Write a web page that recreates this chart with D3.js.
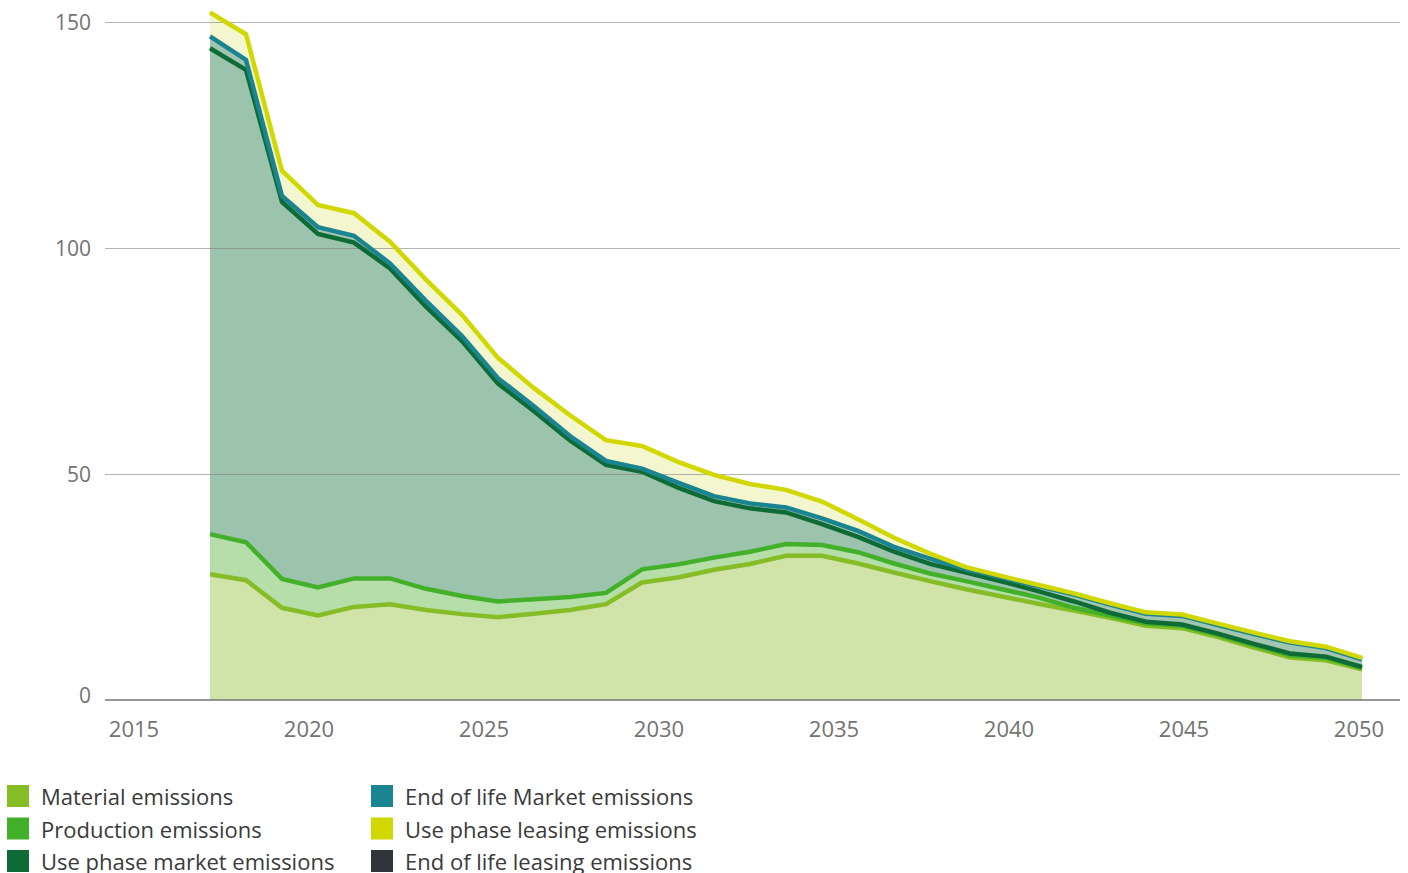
<!DOCTYPE html>
<html lang="en">
<head>
<meta charset="UTF-8">
<title>Emissions</title>
<style>
  body { margin: 0; background: #fff; }
  svg text { font-family: "Open Sans", sans-serif; }
</style>
</head>
<body>
<svg id="chart" width="1408" height="873"></svg>
<script src="https://d3js.org/d3.v7.min.js"></script>
<script>

// data (one value per point)
let years = [2018, 2019, 2020, 2021, 2022, 2023, 2024, 2025, 2026, 2027, 2028,
             2029, 2030, 2031, 2032, 2033, 2034, 2035, 2036, 2037, 2038, 2039,
             2040, 2041, 2042, 2043, 2044, 2045, 2046, 2047, 2048, 2049, 2050];

let material   = [27.8, 26.5, 20.4, 18.7, 20.6, 21.2, 19.9, 19.0, 18.3, 19.1, 19.9,
                  21.2, 26.0, 27.1, 28.8, 30.1, 31.9, 31.9, 30.2, 28.2, 26.3, 24.5,
                  22.9, 21.3, 19.8, 18.2, 16.4, 15.9, 13.9, 11.6, 9.4, 8.8, 6.8];
let production = [8.9, 8.4, 6.4, 6.2, 6.3, 5.7, 4.7, 4.0, 3.5, 3.2, 2.9,
                  2.5, 2.9, 2.9, 2.7, 2.7, 2.6, 2.4, 2.5, 2.0, 1.7, 1.8,
                  1.6, 1.4, 0.6, 0.5, 0.5, 0.5, 0.5, 0.5, 0.5, 0.5, 0.3];
let useMarket  = [107.5, 104.5, 83.4, 78.2, 74.3, 68.6, 62.4, 56.4, 48.2, 41.6, 34.6,
                  28.3, 21.6, 17.0, 12.5, 9.6, 7.0, 4.6, 3.4, 2.6, 2.1, 1.9,
                  1.7, 1.4, 1.4, 0.6, 0.4, 0.3, 0.3, 0.3, 0.4, 0.3, 0.2];
let eolMarket  = [2.6, 2.2, 1.3, 1.5, 1.5, 1.1, 1.3, 1.1, 1.2, 1.1, 1.0,
                  0.9, 0.7, 1.1, 1.1, 1.1, 1.1, 1.3, 1.3, 1.1, 1.2, 0.7,
                  0.9, 1.1, 1.5, 1.8, 1.8, 1.9, 1.9, 2.2, 2.4, 1.9, 1.7];
let useLeasing = [5.3, 5.7, 5.6, 4.9, 5.0, 4.8, 4.7, 4.7, 4.5, 4.0, 4.6,
                  4.6, 5.0, 4.6, 4.7, 4.3, 3.9, 3.7, 2.6, 2.0, 1.1, 0.5,
                  0.3, 0.3, 0.3, 0.3, 0.3, 0.3, 0.3, 0.3, 0.3, 0.3, 0.3];
let eolLeasing = [0, 0, 0, 0, 0, 0, 0, 0, 0, 0, 0,
                  0, 0, 0, 0, 0, 0, 0, 0, 0, 0, 0,
                  0, 0, 0, 0, 0, 0, 0, 0, 0, 0, 0];

let xTicks = [2015, 2020, 2025, 2030, 2035, 2040, 2045, 2050];
let yTicks = [0, 50, 100, 150];

let series = [
    {key: "material",   name: "Material emissions",          values: material,   line: "#86bc25", fill: "#d0e4aa"},
    {key: "production", name: "Production emissions",        values: production, line: "#43b02a", fill: "#b5dea9"},
    {key: "useMarket",  name: "Use phase market emissions",  values: useMarket,  line: "#0e6b35", fill: "#9cc3ab"},
    {key: "eolMarket",  name: "End of life Market emissions",values: eolMarket,  line: "#1a8490", fill: "#a0c5b0"},
    {key: "useLeasing", name: "Use phase leasing emissions", values: useLeasing, line: "#d0d800", fill: "#f4f6d0"},
    {key: "eolLeasing", name: "End of life leasing emissions",values: eolLeasing, line: "#30353c", fill: "#30353c"}
];

let rows = years.map((yr, i) => {
    let r = {year: yr};
    series.forEach(s => r[s.key] = s.values[i]);
    return r;
});

let stacked = d3.stack().keys(series.map(s => s.key))(rows);

let svg = d3.select("#chart");

// points sit 36px apart, the year labels 35px apart
let x = d3.scaleLinear().domain([2018, 2050]).range([210, 1362]);
let xLab = d3.scaleLinear().domain([2015, 2050]).range([134, 1359]);
let y = d3.scaleLinear().domain([0, 150]).range([700, 22]);

let area = d3.area()
    .x(d => x(d.data.year))
    .y0(d => y(d[0]))
    .y1(d => y(d[1]));

let line = d3.line()
    .x(d => x(d.data.year))
    .y(d => y(d[1]));

// fills
svg.append("g")
    .selectAll("path")
    .data(stacked)
    .enter()
    .append("path")
    .attr("d", area)
    .attr("fill", (d, i) => series[i].fill);

// gridlines over the fills
svg.append("g")
    .selectAll("line")
    .data(yTicks.filter(t => t > 0))
    .enter()
    .append("line")
    .attr("x1", 105)
    .attr("x2", 1400)
    .attr("y1", d => y(d) + 0.5)
    .attr("y2", d => y(d) + 0.5)
    .attr("stroke", "#808080")
    .attr("stroke-opacity", 0.6)
    .attr("stroke-width", 1);

// top edge of each layer
svg.append("g")
    .selectAll("path")
    .data(stacked.filter((d, i) => d3.max(series[i].values) > 0))
    .enter()
    .append("path")
    .attr("d", line)
    .attr("fill", "none")
    .attr("stroke", d => series.find(s => s.key === d.key).line)
    .attr("stroke-width", 4.5)
    .attr("stroke-linejoin", "miter");

// baseline
svg.append("line")
    .attr("x1", 105)
    .attr("x2", 1400)
    .attr("y1", y(0))
    .attr("y2", y(0))
    .attr("stroke", "#757575")
    .attr("stroke-width", 1.5);

// y labels
svg.append("g")
    .selectAll("text")
    .data(yTicks)
    .enter()
    .append("text")
    .attr("x", 91)
    .attr("y", d => y(d) - (d === 0 ? 5 : 0))
    .attr("text-anchor", "end")
    .attr("dominant-baseline", "central")
    .attr("font-size", 21)
    .attr("fill", "#737373")
    .text(d => d);

// x labels
svg.append("g")
    .selectAll("text")
    .data(xTicks)
    .enter()
    .append("text")
    .attr("x", d => xLab(d))
    .attr("y", 728)
    .attr("text-anchor", "middle")
    .attr("dominant-baseline", "central")
    .attr("font-size", 22)
    .attr("fill", "#737373")
    .text(d => d);

// legend, two columns of three
let legend = svg.append("g")
    .selectAll("g")
    .data(series)
    .enter()
    .append("g")
    .attr("transform", (d, i) => "translate(" + (i < 3 ? 7 : 371) + "," + (796 + (i % 3) * 32.5) + ")");

legend.append("rect")
    .attr("x", 0)
    .attr("y", -11)
    .attr("width", 22)
    .attr("height", 22)
    .attr("fill", d => d.line);

legend.append("text")
    .attr("x", 34)
    .attr("y", 0)
    .attr("dominant-baseline", "central")
    .attr("font-size", 22)
    .attr("fill", "#3a3a3a")
    .text(d => d.name);

</script>
</body>
</html>
